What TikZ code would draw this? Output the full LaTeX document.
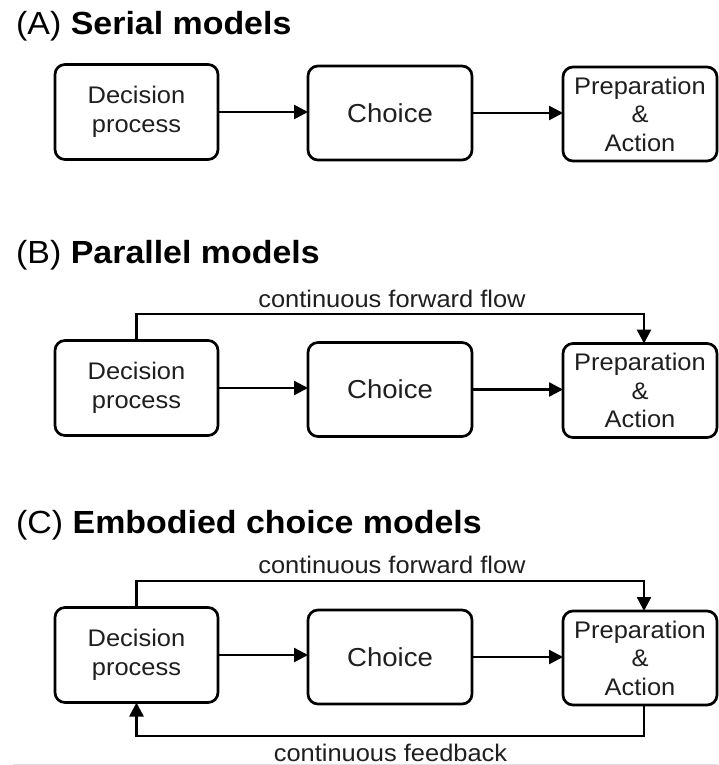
\documentclass[tikz,border=0pt]{standalone}
\usepackage{fontspec}
\setmainfont{Liberation Sans}[FakeStretch=1.06]
\usetikzlibrary{arrows.meta,calc}
\begin{document}
\begin{tikzpicture}[x=1pt,y=-1pt,
  box/.style={draw=black,line width=2.7pt,rounded corners=10pt,align=center,
    font=\fontsize{24}{28.5}\selectfont,text=black!88,inner sep=0pt,outer sep=0pt},
  boxd/.style={box,minimum width=163pt,minimum height=95pt},
  boxc/.style={box,minimum width=164pt,minimum height=94pt,font=\fontsize{26}{30}\selectfont},
  boxp/.style={box,minimum width=154pt,minimum height=94pt},
  arr/.style={line width=2.5pt,-{Triangle[length=14pt,width=14pt]}},
  ttl/.style={anchor=base west,font=\fontsize{32}{36}\selectfont,inner sep=0pt},
  lbl/.style={anchor=base,font=\fontsize{24}{28}\selectfont,text=black!88,inner sep=0pt}]
\useasboundingbox[fill=white] (0,0) rectangle (718,765);

% ---- (A)
\node[ttl] (tA) at (16,35) {(A) \textbf{Serial models}};
\node[boxd] (dA) at (136.5,112) {Decision\\process};
\node[boxc] (cA) at (390,113) {Choice};
\node[boxp] (pA) at (640,114) {Preparation\\\&\\Action};
\draw[arr] (dA.east) -- (dA.east -| cA.west);
\draw[arr] (cA.east) -- (cA.east -| pA.west);

% ---- (B)
\node[ttl] (tB) at (16,263) {(B) \textbf{Parallel models}};
\node[boxd] (dB) at (136.5,388) {Decision\\process};
\node[boxc] (cB) at (390,389.5) {Choice};
\node[boxp] (pB) at (640,390.5) {Preparation\\\&\\Action};
\draw[arr] (dB.east) -- (dB.east -| cB.west);
\draw[arr] (cB.east) -- (cB.east -| pB.west);
\coordinate (fB) at (644,314);
\draw[arr] (dB.north) |- (fB) -- (fB |- pB.north);
\node[lbl] (lB) at (392,307) {continuous forward flow};

% ---- (C)
\node[ttl] (tC) at (16,533) {(C) \textbf{Embodied choice models}};
\node[boxd] (dC) at (136.5,655) {Decision\\process};
\node[boxc] (cC) at (390,657) {Choice};
\node[boxp] (pC) at (640,658) {Preparation\\\&\\Action};
\draw[arr] (dC.east) -- (dC.east -| cC.west);
\draw[arr] (cC.east) -- (cC.east -| pC.west);
\coordinate (fC) at (644,581);
\draw[arr] (dC.north) |- (fC) -- (fC |- pC.north);
\node[lbl] (lC) at (392,573) {continuous forward flow};
\coordinate (bC) at (644,736);
\draw[arr] (bC |- pC.south) -- (bC) -| (dC.south);
\node[lbl] (lF) at (390.5,761) {continuous feedback};
\draw[gray!25,line width=1pt] (13,764.5) -- (718,764.5);
\end{tikzpicture}
\end{document}
